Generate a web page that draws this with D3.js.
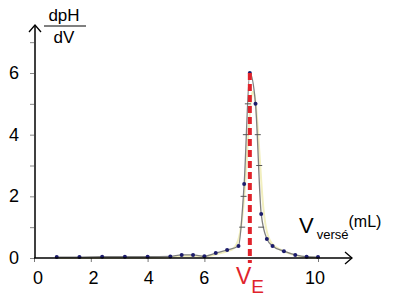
<!DOCTYPE html>
<html>
<head>
<meta charset="utf-8">
<script src="https://cdn.jsdelivr.net/npm/d3@7"></script>
<style>
  body { margin: 0; background: #fff; }
  text { font-family: "Liberation Sans", Arial, sans-serif; }
</style>
</head>
<body>
<div id="chart"></div>
<script>
// volumes versés (mL) et dpH/dV
const volumes = [0.8, 1.6, 2.4, 3.2, 4.0, 4.8, 5.2, 5.6, 6.0, 6.4, 6.8, 7.2, 7.4, 7.6, 7.8, 8.0, 8.2, 8.4, 8.8, 9.2, 9.6, 10.0];
const derivee = [0.03, 0.03, 0.04, 0.04, 0.04, 0.05, 0.1, 0.1, 0.06, 0.16, 0.26, 0.39, 2.4, 6.0, 5.0, 1.43, 0.62, 0.39, 0.22, 0.1, 0.04, 0.03];
// petits tirets le long du pic
const tiretsX = [7.33, 7.38, 7.46, 7.53, 7.88, 7.93, 8.0];
const tiretsY = [1.0, 2.0, 4.0, 5.0, 4.0, 3.0, 1.0];
const xTicks = [0, 2, 4, 6, 10];
const yTicks = [0, 2, 4, 6];
const yMinor = [1, 3, 5, 7];
const vE = 7.6;

const width = 401, height = 297;

const svg = d3.select('#chart')
    .append('svg')
    .attr('width', width)
    .attr('height', height);

const x = d3.scaleLinear().domain([0, 10]).range([34, 318]);
const y = d3.scaleLinear().domain([0, 6]).range([258, 73]);
// les étiquettes de l'axe x sont un peu décalées par rapport aux graduations
const xLab = d3.scaleLinear().domain([0, 10]).range([38, 315]);

const pts = volumes.map((v, i) => [v, derivee[i]]);

// courbe jaune pâle en arrière-plan
svg.append('path')
    .datum(pts)
    .attr('fill', 'none')
    .attr('stroke', '#f2efbf')
    .attr('stroke-width', 2)
    .attr('d', d3.line().x(d => x(d[0]) + 1.5).y(d => y(d[1]) + 1).curve(d3.curveBasis));

// courbe grise
svg.append('path')
    .datum(pts)
    .attr('fill', 'none')
    .attr('stroke', '#808080')
    .attr('stroke-width', 1.3)
    .attr('d', d3.line().x(d => x(d[0])).y(d => y(d[1])).curve(d3.curveMonotoneX));

// tirets
svg.selectAll('.tiret')
  .data(tiretsX)
  .enter()
  .append('line')
    .attr('x1', (d) => x(d) - 3)
    .attr('x2', (d) => x(d) + 3)
    .attr('y1', (d, i) => y(tiretsY[i]))
    .attr('y2', (d, i) => y(tiretsY[i]))
    .attr('stroke', '#555')
    .attr('stroke-width', 1);

// points
svg.selectAll('.pt')
  .data(pts)
  .enter()
  .append('circle')
    .attr('cx', d => x(d[0]))
    .attr('cy', d => y(d[1]))
    .attr('r', 2)
    .attr('fill', '#1c1c6b');

// axes
const xAxis = svg.append('g').attr('transform', 'translate(0,' + y(0) + ')');
xAxis.call(d3.axisBottom(x).tickValues(xTicks).tickSize(4).tickFormat(''));
xAxis.select('.domain').remove();
xAxis.selectAll('line').attr('stroke', '#777');

const yAxis = svg.append('g').attr('transform', 'translate(' + x(0) + ',0)');
yAxis.call(d3.axisLeft(y).tickValues(yTicks.concat(yMinor)).tickSize(4).tickFormat(''));
yAxis.select('.domain').remove();
yAxis.selectAll('line').attr('stroke', '#888');

// lignes d'axe avec flèches
svg.append('line')
    .attr('x1', x(0) + 1).attr('y1', y(0))
    .attr('x2', x(0) + 1).attr('y2', 25)
    .attr('stroke', '#000').attr('stroke-width', 1.5);
svg.append('path')
    .attr('d', 'M' + (x(0) - 5) + ',32 L' + (x(0) + 1) + ',25 L' + (x(0) + 7) + ',32')
    .attr('fill', 'none').attr('stroke', '#000').attr('stroke-width', 1.3);

svg.append('line')
    .attr('x1', x(0)).attr('y1', y(0))
    .attr('x2', 352).attr('y2', y(0))
    .attr('stroke', '#000').attr('stroke-width', 1.5);
svg.append('path')
    .attr('d', 'M345,' + (y(0) - 6) + ' L352,' + y(0) + ' L345,' + (y(0) + 6))
    .attr('fill', 'none').attr('stroke', '#000').attr('stroke-width', 1.3);

// étiquettes des graduations
svg.selectAll('.xl')
  .data(xTicks)
  .enter()
  .append('text')
    .attr('x', d => xLab(d))
    .attr('y', 284)
    .attr('text-anchor', 'middle')
    .style('font-size', '18px')
    .text(d => d);

svg.selectAll('.yl')
  .data(yTicks)
  .enter()
  .append('text')
    .attr('x', 14)
    .attr('y', d => y(d) + 6)
    .attr('text-anchor', 'middle')
    .style('font-size', '18px')
    .text(d => d);

// titre axe y : dpH / dV
svg.append('text').attr('x', 64).attr('y', 21).attr('text-anchor', 'middle')
    .style('font-size', '17px').text('dpH');
svg.append('line').attr('x1', 44).attr('x2', 86).attr('y1', 26).attr('y2', 26)
    .attr('stroke', '#000').attr('stroke-width', 1);
svg.append('text').attr('x', 64).attr('y', 43).attr('text-anchor', 'middle')
    .style('font-size', '17px').text('dV');

// titre axe x
const xt = svg.append('text').attr('x', 299).attr('y', 233);
xt.append('tspan').style('font-size', '22px').text('V');
xt.append('tspan').attr('dx', 3).attr('dy', 6).style('font-size', '13px').text('versé');
xt.append('tspan').attr('dy', -12).style('font-size', '16px').text('(mL)');

// V_E en pointillés rouges
svg.append('line')
    .attr('x1', x(vE)).attr('x2', x(vE))
    .attr('y1', y(6)).attr('y2', 263)
    .attr('stroke', '#e0232b')
    .attr('stroke-width', 4)
    .attr('stroke-dasharray', '7,4');

const ve = svg.append('text').attr('x', 236).attr('y', 284).attr('fill', '#e0232b');
ve.append('tspan').style('font-size', '23px').text('V');
ve.append('tspan').attr('dy', 9).style('font-size', '19px').text('E');
</script>
</body>
</html>
